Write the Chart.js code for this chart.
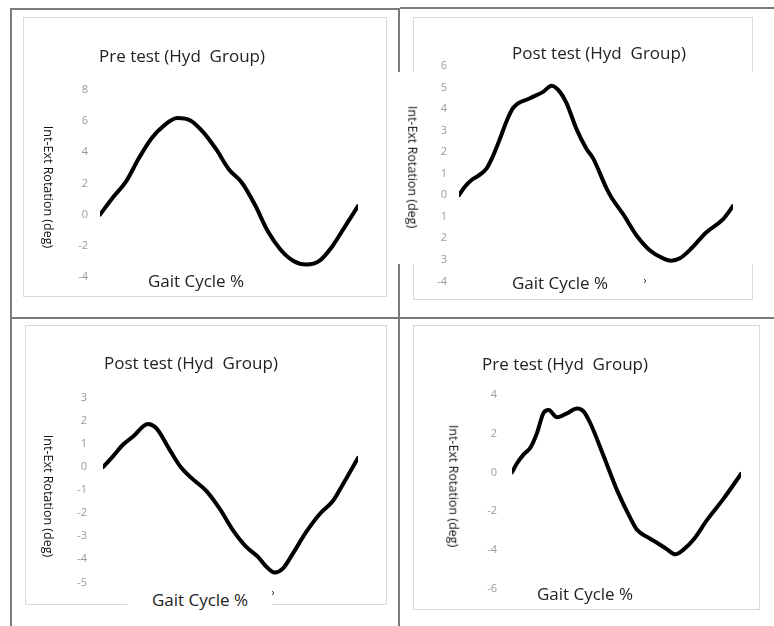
<!DOCTYPE html>
<html>
<head>
<meta charset="utf-8">
<script src="https://cdn.jsdelivr.net/npm/chart.js@4.4.0/dist/chart.umd.min.js"></script>
<style>
  body { margin: 0; background: #fff; width: 774px; height: 626px; position: relative; overflow: hidden; font-family: "Open Sans", sans-serif; }
  .rule { position: absolute; background: #7a7a7a; }
  .box { position: absolute; border: 1px solid #dadada; box-sizing: border-box; }
  .patch { position: absolute; background: #fff; }
  .txt { position: absolute; white-space: pre; line-height: 1; color: #222; transform: translate(-50%, -50%); }
  .title, .gait { font-size: 17px; }
  .ylab { font-size: 12.5px; color: #111; transform: translate(-50%, -50%) rotate(90deg); }
  .mark { font-size: 10px; }
  canvas { position: absolute; }
</style>
</head>
<body>
<!-- frame lines -->
<div class="rule" style="left:10px;top:8px;width:390px;height:2px"></div>
<div class="rule" style="left:400px;top:7px;width:374px;height:2px"></div>
<div class="rule" style="left:10px;top:8px;width:2px;height:618px"></div>
<div class="rule" style="left:398px;top:8px;width:2px;height:618px"></div>
<div class="rule" style="left:10px;top:317px;width:764px;height:2px"></div>

<!-- inner chart boxes -->
<div class="box" style="left:23px;top:17px;width:364px;height:280px"></div>
<div class="box" style="left:413px;top:17px;width:340px;height:283px"></div>
<div class="box" style="left:25px;top:325px;width:362px;height:280px"></div>
<div class="box" style="left:413px;top:325px;width:347px;height:285px"></div>
<div class="patch" style="left:396px;top:72px;width:370px;height:192px"></div>

<canvas id="chartTL"></canvas>
<canvas id="chartTR"></canvas>
<canvas id="chartBL"></canvas>
<canvas id="chartBR"></canvas>

<!-- texts -->
<div class="txt title" style="left:182px;top:55px">Pre test (Hyd  Group)</div>
<div class="txt ylab" style="left:48px;top:187px">Int-Ext Rotation (deg)</div>
<div class="txt gait" style="left:196px;top:280px">Gait Cycle %</div>

<div class="txt title" style="left:599px;top:52px">Post test (Hyd  Group)</div>
<div class="txt ylab" style="left:412px;top:167px">Int-Ext Rotation (deg)</div>
<div class="txt gait" style="left:560px;top:282px">Gait Cycle %</div>
<div class="txt mark" style="left:645px;top:280px">›</div>

<div class="txt title" style="left:191px;top:362px">Post test (Hyd  Group)</div>
<div class="txt ylab" style="left:48px;top:496px">Int-Ext Rotation (deg)</div>
<div class="txt gait" style="left:200px;top:600px;background:#fff;padding:6px 24px 8px 24px">Gait Cycle %</div>
<div class="txt mark" style="left:273px;top:592px">›</div>

<div class="txt title" style="left:565px;top:363px">Pre test (Hyd  Group)</div>
<div class="txt ylab" style="left:453px;top:486px">Int-Ext Rotation (deg)</div>
<div class="txt gait" style="left:585px;top:593px">Gait Cycle %</div>

<script>
// top left: Pre test
const topLeftGait = [0, 5, 10, 15, 20, 25, 30, 35, 40, 45, 50, 55, 60, 65, 70, 75, 80, 85, 90, 95, 100];
const topLeftRotation = [0, 1.1, 2.1, 3.6, 4.9, 5.75, 6.2, 6.05, 5.3, 4.2, 2.9, 2.05, 0.65, -1.05, -2.25, -2.97, -3.2, -2.97, -2.04, -0.75, 0.55];
const topLeftTicks = ["-4", "-2", "0", "2", "4", "6", "8"];

// top right: Post test
const topRightGait = [0, 2.2, 4.6, 7, 10.1, 12.5, 14.9, 17.4, 19.8, 25.9, 30.7, 33.8, 36.8, 39.2, 42.9, 46.5, 49, 53.8, 55.7, 59.9, 64.8, 69.6, 74.5, 77.5, 80.6, 84.2, 90.3, 96.4, 100];
const topRightRotation = [0, 0.41, 0.71, 0.9, 1.25, 1.85, 2.61, 3.45, 4.06, 4.5, 4.8, 5.08, 4.8, 4.29, 3.07, 2.16, 1.7, 0.33, -0.12, -0.88, -1.87, -2.55, -2.93, -3.04, -2.93, -2.55, -1.72, -1.11, -0.5];
const topRightTicks = ["-4", "3", "2", "1", "0", "1", "2", "3", "4", "5", "6"];

// bottom left: Post test
const bottomLeftGait = [0, 3.9, 7.8, 11.8, 17.6, 20.9, 26.1, 30.7, 35.3, 40.5, 45.8, 51, 56.2, 60.8, 64, 67.3, 70.6, 74.5, 79.7, 85, 90.2, 94.1, 100];
const bottomLeftRotation = [0, 0.47, 0.97, 1.33, 1.87, 1.69, 0.76, -0.03, -0.53, -1.03, -1.81, -2.74, -3.46, -3.89, -4.31, -4.57, -4.39, -3.74, -2.81, -2.03, -1.46, -0.74, 0.4];
const bottomLeftTicks = ["-5", "-4", "-3", "-2", "-1", "0", "1", "2", "3"];

// bottom right: Pre test
const bottomRightGait = [0, 2.2, 5.1, 8, 10.9, 13.8, 16, 19.7, 24, 28.4, 31.3, 34.2, 40, 45.9, 51.7, 54.6, 59.7, 63.3, 67.7, 71.3, 75, 79.3, 85.2, 92.4, 100];
const bottomRightRotation = [0, 0.47, 0.93, 1.27, 2.03, 3.08, 3.22, 2.85, 3.05, 3.3, 3.14, 2.54, 0.85, -0.93, -2.37, -2.97, -3.39, -3.64, -3.98, -4.24, -3.98, -3.47, -2.46, -1.36, -0.08];
const bottomRightTicks = ["-6", "-4", "-2", "0", "2", "4"];

Chart.defaults.font.family = '"Open Sans", sans-serif';

const panels = [
  { id: "chartTL", rect: { x: 23, y: 17, w: 364, h: 280 }, area: { left: 100, right: 358, top: 90, bottom: 277 },
    gait: topLeftGait, values: topLeftRotation, ticks: topLeftTicks, min: -4, max: 8, step: 2, tickPad: 12 },
  { id: "chartTR", rect: { x: 413, y: 17, w: 340, h: 283 }, area: { left: 459, right: 733, top: 66, bottom: 285 },
    gait: topRightGait, values: topRightRotation, ticks: topRightTicks, min: -4, max: 6, step: 1, tickPad: 12 },
  { id: "chartBL", rect: { x: 25, y: 325, w: 362, h: 280 }, area: { left: 103, right: 358, top: 398, bottom: 585 },
    gait: bottomLeftGait, values: bottomLeftRotation, ticks: bottomLeftTicks, min: -5, max: 3, step: 1, tickPad: 16 },
  { id: "chartBR", rect: { x: 413, y: 325, w: 347, h: 285 }, area: { left: 512, right: 741, top: 395, bottom: 592 },
    gait: bottomRightGait, values: bottomRightRotation, ticks: bottomRightTicks, min: -6, max: 4, step: 2, tickPad: 15 },
];

function drawPanel(p) {
  const canvas = document.getElementById(p.id);
  canvas.width = p.rect.w;
  canvas.height = p.rect.h;
  canvas.style.left = p.rect.x + "px";
  canvas.style.top = p.rect.y + "px";
  const axisWidth = 40;

  new Chart(canvas, {
    type: "line",
    data: {
      datasets: [
        {
          data: p.gait.map((g, i) => ({ x: g, y: p.values[i] })),
          borderColor: "#000",
          borderWidth: 4,
          pointRadius: 0,
          cubicInterpolationMode: "monotone",
          borderCapStyle: "round",
          borderJoinStyle: "round",
          fill: false,
        },
      ],
    },
    options: {
      responsive: false,
      animation: false,
      devicePixelRatio: 1,
      layout: {
        padding: {
          left: p.area.left - p.rect.x - axisWidth,
          right: p.rect.x + p.rect.w - p.area.right,
          top: p.area.top - p.rect.y,
          bottom: p.rect.y + p.rect.h - p.area.bottom,
        },
      },
      plugins: {
        legend: { display: false },
        tooltip: { enabled: false },
      },
      scales: {
        x: { type: "linear", min: 0, max: 100, display: false },
        y: {
          min: p.min,
          max: p.max,
          afterFit: (scale) => {
            scale.width = axisWidth;
          },
          grid: { display: false, drawTicks: false },
          border: { display: false },
          ticks: {
            stepSize: p.step,
            autoSkip: false,
            padding: p.tickPad,
            color: "#9a9a9a",
            font: { size: 11 },
            callback: (value, index) => p.ticks[index],
          },
        },
      },
    },
  });
}

panels.forEach(drawPanel);
</script>
</body>
</html>
